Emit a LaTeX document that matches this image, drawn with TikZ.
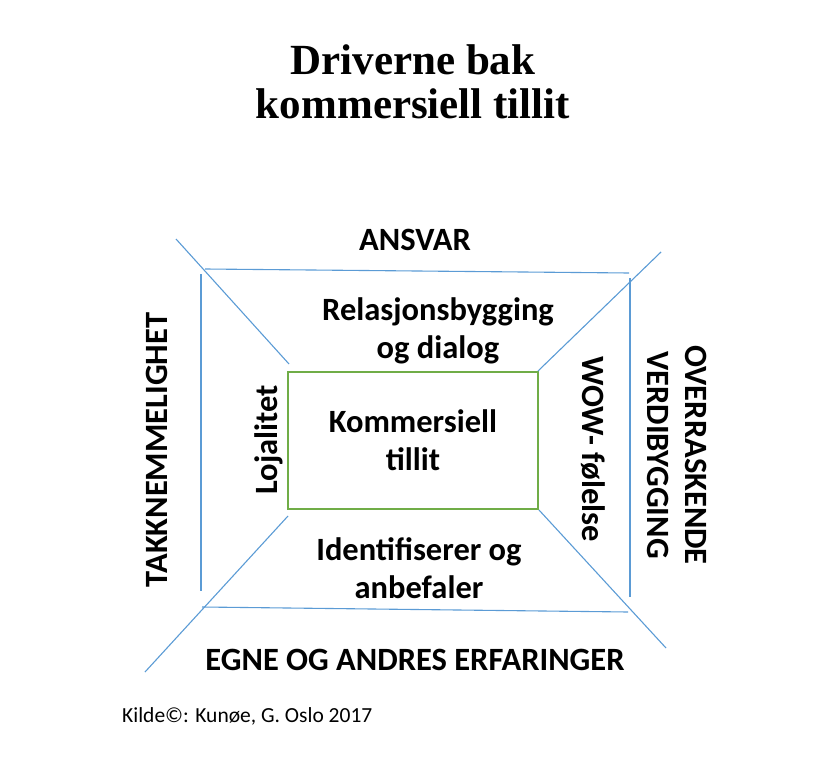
\documentclass[tikz,border=0pt]{standalone}
\usepackage{fontspec}
\setmainfont{Liberation Serif}
\newfontfamily\labelfont{Carlito}
\usepackage{xcolor}
\usetikzlibrary{positioning}
\definecolor{lineblue}{HTML}{5B9BD5}
\definecolor{coregreen}{HTML}{70AD47}
\tikzset{
  frameline/.style={draw=lineblue, line width=1.1pt},
  drvlabel/.style={font=\labelfont\bfseries\fontsize{32.5}{38}\selectfont,
                   align=center, inner sep=0pt},
  corebox/.style={rectangle, draw=coregreen, line width=1.1pt,
                  minimum width=250pt, minimum height=137pt},
}

\begin{document}
\begin{tikzpicture}[x=1pt, y=-1pt]
    \useasboundingbox (0,0) rectangle (840,759);
    \node[font=\bfseries\fontsize{43}{44}\selectfont, align=center] (title) at (413,82) {Driverne bak\\kommersiell tillit};
    \node[corebox, drvlabel] (core) at (413,440.5) {Kommersiell\\tillit};
    \node[drvlabel] (relasjon) at (438,331) {Relasjonsbygging\\og dialog};
    \node[drvlabel] (ident) at (419,568) {Identifiserer og\\anbefaler};
    \node[drvlabel, rotate=90] (lojal) at (269,440) {Lojalitet};
    \node[drvlabel, rotate=-90] (wow) at (593,449) {WOW- følelse};
    \node[drvlabel] (ansvar) at (415,240) {ANSVAR};
    \node[drvlabel] (egne) at (415,660) {EGNE OG ANDRES ERFARINGER};
    \node[drvlabel, rotate=90] (takk) at (157,450) {TAKKNEMMELIGHET};
    \node[drvlabel, rotate=-90] (overr) at (677,455) {OVERRASKENDE\\VERDIBYGGING};
    \node[font=\labelfont\fontsize{21.5}{25}\selectfont, anchor=west, inner sep=0pt] (kilde) at (122,716) {Kilde©: Kunøe, G. Oslo 2017};
    \coordinate (tl out) at (176,239);
    \coordinate (tl in) at (289,364);
    \coordinate (tr out) at (661,252);
    \coordinate (tr in) at (538,371);
    \coordinate (bl in) at (288,516);
    \coordinate (bl out) at (145,672);
    \coordinate (br in) at (539,510);
    \coordinate (br out) at (666,648);
    \coordinate (top a) at (205,269);
    \coordinate (top b) at (629,273);
    \coordinate (bot a) at (202,607);
    \coordinate (bot b) at (628,612);
    \coordinate (left a) at (201,274);
    \coordinate (left b) at (201,591);
    \coordinate (right a) at (630,278);
    \coordinate (right b) at (630,597);
    \draw[frameline] (tl out) -- (tl in);
    \draw[frameline] (tr out) -- (tr in);
    \draw[frameline] (bl in) -- (bl out);
    \draw[frameline] (br in) -- (br out);
    \draw[frameline] (top a) -- (top b);
    \draw[frameline] (bot a) -- (bot b);
    \draw[frameline] (left a) -- (left b);
    \draw[frameline] (right a) -- (right b);
\end{tikzpicture}
\end{document}
